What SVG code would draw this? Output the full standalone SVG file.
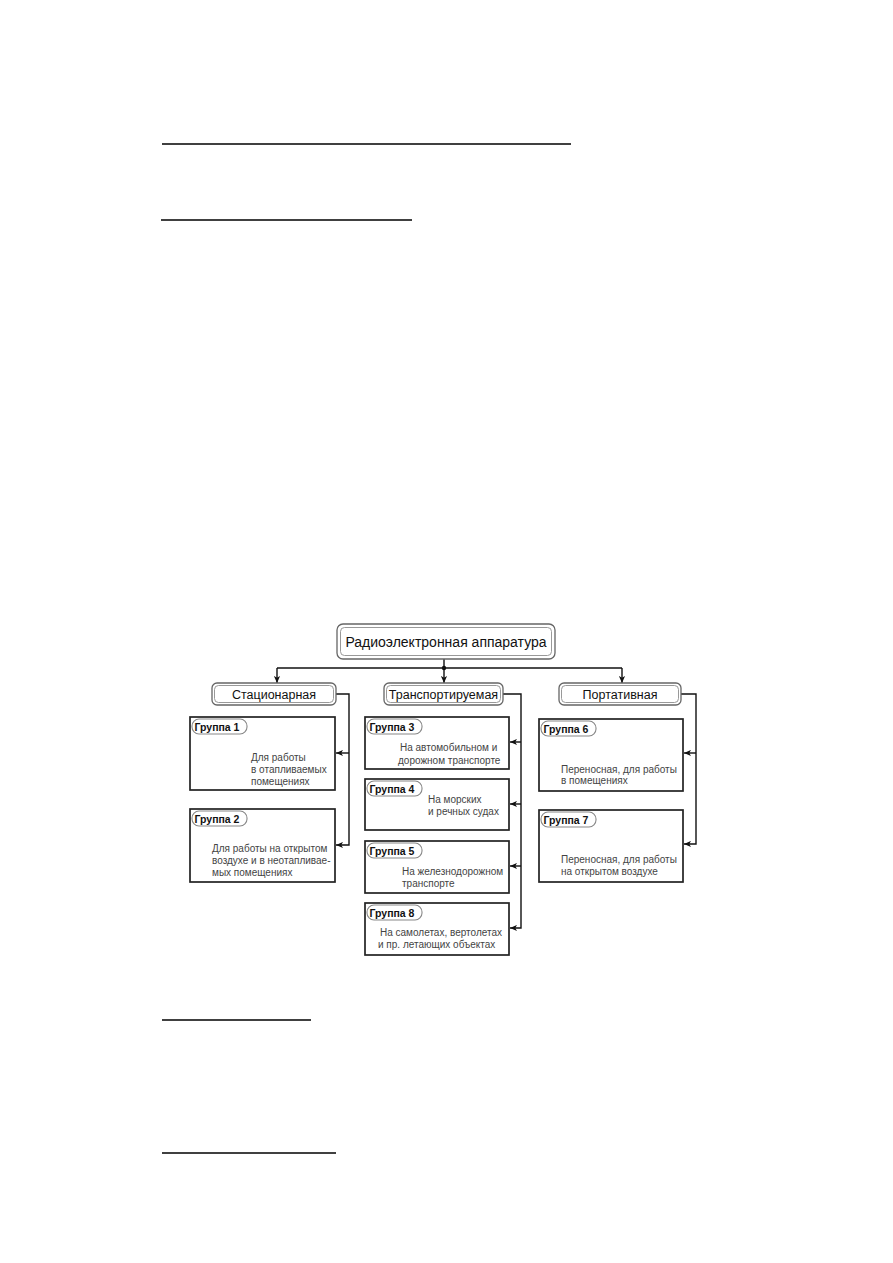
<svg xmlns="http://www.w3.org/2000/svg" width="893" height="1263" viewBox="0 0 893 1263">
<style>
  .rule{stroke:#000;stroke-width:1.3}
  .cat-o{fill:#fff;stroke:#666;stroke-width:1.3}
  .cat-i{fill:none;stroke:#999;stroke-width:1}
  .grp{fill:#fff;stroke:#222;stroke-width:1.7}
  .pill{fill:#fff;stroke:#888;stroke-width:1.1}
  .conn{fill:none;stroke:#111;stroke-width:1.4}
  .t-root{font-family:"Liberation Sans",Arial,sans-serif;font-size:14px;fill:#111}
  .t-cat{font-family:"Liberation Sans",Arial,sans-serif;font-size:12.5px;fill:#111}
  .t-pill{font-family:"Liberation Sans",Arial,sans-serif;font-size:10.5px;font-weight:bold;fill:#111}
  .t-body{font-family:"Liberation Sans",Arial,sans-serif;font-size:10px;fill:#444}
</style>
<defs>
  <marker id="arr" viewBox="0 0 8 8" refX="8" refY="4" markerWidth="7" markerHeight="7" markerUnits="userSpaceOnUse" orient="auto">
    <path d="M0,0.5 L8,4 L0,7.5 L2,4 Z" fill="#111"/>
  </marker>
</defs>
<rect width="893" height="1263" fill="#fff"/>

<g id="rules">
  <line class="rule" x1="162" y1="144" x2="571" y2="144"/>
  <line class="rule" x1="161" y1="220" x2="412" y2="220"/>
  <line class="rule" x1="162" y1="1020" x2="311" y2="1020"/>
  <line class="rule" x1="162" y1="1153" x2="336" y2="1153"/>
</g>

<g id="connectors">
  <line class="conn" x1="277" y1="668" x2="622" y2="668"/>
  <line class="conn" x1="444" y1="659" x2="444" y2="683" marker-end="url(#arr)"/>
  <line class="conn" x1="277" y1="668" x2="277" y2="683" marker-end="url(#arr)"/>
  <line class="conn" x1="622" y1="668" x2="622" y2="683" marker-end="url(#arr)"/>
  <circle cx="444" cy="668" r="2.2" fill="#111"/>

  <path class="conn" d="M336,694 H349 V845 H336" marker-end="url(#arr)"/>
  <line class="conn" x1="349" y1="753" x2="336" y2="753" marker-end="url(#arr)"/>

  <path class="conn" d="M503,694 H521 V928 H510" marker-end="url(#arr)"/>
  <line class="conn" x1="521" y1="742" x2="510" y2="742" marker-end="url(#arr)"/>
  <line class="conn" x1="521" y1="804" x2="510" y2="804" marker-end="url(#arr)"/>
  <line class="conn" x1="521" y1="866" x2="510" y2="866" marker-end="url(#arr)"/>

  <path class="conn" d="M681,694 H696 V844 H684" marker-end="url(#arr)"/>
  <line class="conn" x1="696" y1="753" x2="684" y2="753" marker-end="url(#arr)"/>
</g>

<g id="root">
  <rect class="cat-o" x="337" y="624" width="218" height="35" rx="6"/>
  <rect class="cat-i" x="340.5" y="627.5" width="211" height="28" rx="4"/>
  <text class="t-root" x="446" y="646.5" text-anchor="middle">Радиоэлектронная аппаратура</text>
</g>

<g id="cat-stationary">
  <rect class="cat-o" x="212" y="683" width="124" height="22" rx="5"/>
  <rect class="cat-i" x="214.5" y="685.5" width="119" height="17" rx="4"/>
  <text class="t-cat" x="274" y="698.5" text-anchor="middle">Стационарная</text>
</g>
<g id="cat-transport">
  <rect class="cat-o" x="384" y="683" width="119" height="22" rx="5"/>
  <rect class="cat-i" x="386.5" y="685.5" width="114" height="17" rx="4"/>
  <text class="t-cat" x="443.5" y="698.5" text-anchor="middle">Транспортируемая</text>
</g>
<g id="cat-portable">
  <rect class="cat-o" x="559" y="683" width="122" height="22" rx="5"/>
  <rect class="cat-i" x="561.5" y="685.5" width="117" height="17" rx="4"/>
  <text class="t-cat" x="620" y="698.5" text-anchor="middle">Портативная</text>
</g>

<g id="group1">
  <rect class="grp" x="190" y="717" width="145" height="73"/>
  <rect class="pill" x="192" y="719" width="55" height="15" rx="7"/>
  <text class="t-pill" x="194.5" y="730.5">Группа 1</text>
  <text class="t-body" x="251" y="761">Для работы</text>
  <text class="t-body" x="251" y="773">в отапливаемых</text>
  <text class="t-body" x="251" y="785">помещениях</text>
</g>
<g id="group2">
  <rect class="grp" x="190" y="809" width="145" height="73"/>
  <rect class="pill" x="192" y="811" width="55" height="15" rx="7"/>
  <text class="t-pill" x="194.5" y="822.5">Группа 2</text>
  <text class="t-body" x="212" y="852">Для работы на открытом</text>
  <text class="t-body" x="212" y="864">воздухе и в неотапливае-</text>
  <text class="t-body" x="212" y="876">мых помещениях</text>
</g>

<g id="group3">
  <rect class="grp" x="365" y="717" width="144" height="52"/>
  <rect class="pill" x="367" y="719" width="55" height="15" rx="7"/>
  <text class="t-pill" x="369.5" y="730.5">Группа 3</text>
  <text class="t-body" x="400" y="751">На автомобильном и</text>
  <text class="t-body" x="398" y="764">дорожном транспорте</text>
</g>
<g id="group4">
  <rect class="grp" x="365" y="779" width="144" height="51"/>
  <rect class="pill" x="367" y="781" width="55" height="15" rx="7"/>
  <text class="t-pill" x="369.5" y="792.5">Группа 4</text>
  <text class="t-body" x="428" y="803">На морских</text>
  <text class="t-body" x="428" y="815">и речных судах</text>
</g>
<g id="group5">
  <rect class="grp" x="365" y="841" width="144" height="52"/>
  <rect class="pill" x="367" y="843" width="55" height="15" rx="7"/>
  <text class="t-pill" x="369.5" y="854.5">Группа 5</text>
  <text class="t-body" x="402" y="875">На железнодорожном</text>
  <text class="t-body" x="402" y="887">транспорте</text>
</g>
<g id="group8">
  <rect class="grp" x="365" y="903" width="144" height="52"/>
  <rect class="pill" x="367" y="905" width="55" height="15" rx="7"/>
  <text class="t-pill" x="369.5" y="916.5">Группа 8</text>
  <text class="t-body" x="380" y="936">На самолетах, вертолетах</text>
  <text class="t-body" x="378" y="948">и пр. летающих объектах</text>
</g>

<g id="group6">
  <rect class="grp" x="539" y="719" width="144" height="72"/>
  <rect class="pill" x="541" y="721" width="55" height="15" rx="7"/>
  <text class="t-pill" x="543.5" y="732.5">Группа 6</text>
  <text class="t-body" x="561" y="773">Переносная, для работы</text>
  <text class="t-body" x="561" y="784">в помещениях</text>
</g>
<g id="group7">
  <rect class="grp" x="539" y="810" width="144" height="72"/>
  <rect class="pill" x="541" y="812" width="55" height="15" rx="7"/>
  <text class="t-pill" x="543.5" y="823.5">Группа 7</text>
  <text class="t-body" x="561" y="863">Переносная, для работы</text>
  <text class="t-body" x="561" y="875">на открытом воздухе</text>
</g>
</svg>
